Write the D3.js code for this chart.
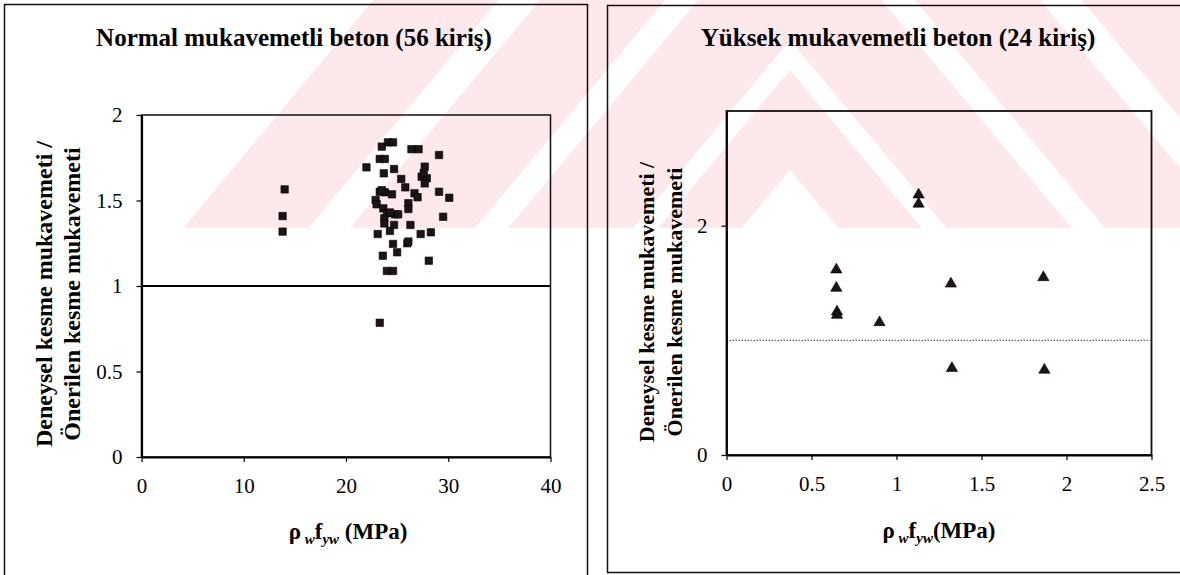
<!DOCTYPE html>
<html>
<head>
<meta charset="utf-8">
<script src="https://cdn.jsdelivr.net/npm/d3@7"></script>
<style>
body { margin: 0; background: #fff; }
svg { display: block; }
</style>
</head>
<body>
<div id="chart"></div>
<script>
// normal strength concrete (56 beams)
var normX = [14.0, 13.8, 13.8, 22.0, 23.5, 24.1, 24.6, 26.4, 27.1, 29.1, 23.3, 23.8, 23.7, 24.7, 27.7,
             27.4, 27.9, 27.7, 27.6, 25.4, 25.8, 26.7, 27.0, 29.1, 30.1, 23.3, 23.8, 24.5, 22.9, 23.0,
             26.1, 26.1, 23.65, 24.0, 24.8, 25.1, 23.75, 23.75, 29.5, 24.7, 26.3, 24.3, 23.1, 27.3,
             28.3, 24.6, 26.0, 26.1, 25.0, 23.6, 28.1, 24.0, 24.6, 23.3, 23.5, 24.3];
var normY = [1.565, 1.409, 1.318, 1.694, 1.815, 1.84, 1.84, 1.80, 1.80, 1.766, 1.743, 1.743, 1.659, 1.684, 1.698,
             1.639, 1.63, 1.60, 1.66, 1.626, 1.577, 1.542, 1.519, 1.551, 1.516, 1.551, 1.548, 1.536, 1.503, 1.478,
             1.484, 1.45, 1.454, 1.425, 1.419, 1.419, 1.396, 1.366, 1.405, 1.357, 1.357, 1.322, 1.304, 1.304,
             1.314, 1.246, 1.25, 1.26, 1.197, 1.177, 1.148, 1.088, 1.088, 0.785, 1.56, 1.43];

// high strength concrete (24 beams, many overlap)
var highX = [1.13, 1.13, 0.646, 0.646, 0.65, 0.65, 0.90, 1.32, 1.864, 1.326, 1.87];
var highY = [2.27, 2.19, 1.616, 1.456, 1.25, 1.22, 1.156, 1.493, 1.549, 0.757, 0.742];

var normXTicks = [0, 10, 20, 30, 40];
var normYTicks = [0, 0.5, 1, 1.5, 2];
var highXTicks = [0, 0.5, 1, 1.5, 2, 2.5];
var highYTicks = [0, 2];

var titles = ["Normal mukavemetli beton (56 kiriş)", "Yüksek mukavemetli beton (24 kiriş)"];
var yTitleLines = ["Deneysel kesme mukavemeti /", "Önerilen kesme mukavemeti"];

var width = 1180,
    height = 575,
    serif = "'Liberation Serif', 'Times New Roman', serif";

var svg = d3.select("#chart").append("svg")
    .attr("width", width)
    .attr("height", height);

// faint pink watermark in the upper band
svg.append("clipPath").attr("id", "wmclip")
    .append("rect").attr("x", 180).attr("y", 0).attr("width", 1000).attr("height", 228);
var wm = svg.append("g").attr("clip-path", "url(#wmclip)");

function chevron(cx, apex, w, s) {
    var L = 1200;
    return [[cx - L, apex + s * L], [cx, apex], [cx + L, apex + s * L],
            [cx + L, apex + w + s * L], [cx, apex + w], [cx - L, apex + w + s * L]];
}
[[-500, 150], [-300, 150], [-110, 150], [70, 100]].forEach(function (b) {
    wm.append("polygon")
        .attr("points", chevron(790, b[0], b[1], 1.2).map(function (p) { return p.join(","); }).join(" "))
        .attr("fill", "#fde8ec");
});

function drawPanel(o) {
    var g = svg.append("g");

    g.append("rect")
        .attr("x", o.frame[0]).attr("y", o.frame[1])
        .attr("width", o.frame[2]).attr("height", o.frame[3])
        .attr("fill", "none").attr("stroke", "#111").attr("stroke-width", 1.5);

    var x = d3.scaleLinear().domain(o.xDomain).range([o.left, o.right]);
    var y = d3.scaleLinear().domain(o.yDomain).range([o.bottom, o.top]);

    g.append("rect")
        .attr("x", o.left).attr("y", o.top)
        .attr("width", o.right - o.left).attr("height", o.bottom - o.top)
        .attr("fill", "none").attr("stroke", "#111").attr("stroke-width", o.boxWidth);

    var ref = g.append("line")
        .attr("x1", o.left).attr("x2", o.right)
        .attr("y1", y(1)).attr("y2", y(1));
    if (o.dotted) {
        ref.attr("stroke", "#444").attr("stroke-width", 1).attr("stroke-dasharray", "1.5,1.5");
    } else {
        ref.attr("stroke", "#000").attr("stroke-width", 2);
    }

    var xAxis = g.append("g")
        .attr("transform", "translate(0," + o.bottom + ")")
        .call(d3.axisBottom(x).tickValues(o.xTicks).tickSize(5).tickSizeOuter(0)
            .tickPadding(16).tickFormat(String));
    var yAxis = g.append("g")
        .attr("transform", "translate(" + o.left + ",0)")
        .call(d3.axisLeft(y).tickValues(o.yTicks).tickSize(5).tickSizeOuter(0)
            .tickPadding(o.yPad).tickFormat(String));

    [xAxis, yAxis].forEach(function (a) {
        a.select(".domain").attr("stroke", "#000").attr("stroke-width", o.axisWidth);
        a.selectAll(".tick line").attr("stroke", "#000").attr("stroke-width", 1.2);
        a.selectAll(".tick text")
            .attr("fill", "#000")
            .style("font-family", serif)
            .style("font-size", "21px");
    });

    var pts = d3.zip(o.xs, o.ys);
    g.selectAll(".pt")
        .data(pts)
        .enter().append("path")
        .attr("class", "pt")
        .attr("transform", function (d) { return "translate(" + x(d[0]) + "," + y(d[1]) + ")"; })
        .attr("d", d3.symbol().type(o.symbol).size(o.symSize))
        .attr("fill", "#1c1416")
        .attr("stroke", "#000")
        .attr("stroke-width", 0.6);

    g.append("text")
        .attr("x", o.titleX).attr("y", 46)
        .attr("text-anchor", "middle")
        .style("font-family", serif).style("font-weight", "bold").style("font-size", "25px")
        .text(o.title);

    yTitleLines.forEach(function (t, i) {
        g.append("text")
            .attr("transform", "translate(" + o.yTitleX[i] + "," + o.yTitleY + ") rotate(-90)")
            .attr("text-anchor", "middle")
            .style("font-family", serif).style("font-weight", "bold")
            .style("font-size", o.yTitleSize + "px")
            .text(t);
    });

    var xt = g.append("text")
        .attr("x", o.xTitleX).attr("y", o.xTitleY)
        .attr("text-anchor", "middle")
        .style("font-family", serif).style("font-weight", "bold").style("font-size", "23px");
    xt.append("tspan").text("ρ");
    xt.append("tspan").attr("dy", 5).style("font-size", "15px").style("font-style", "italic").text(" w");
    xt.append("tspan").attr("dy", -5).text("f");
    xt.append("tspan").attr("dy", 5).style("font-size", "15px").style("font-style", "italic").text("yw");
    xt.append("tspan").attr("dy", -5).text(o.unitGap + "(MPa)");
}

drawPanel({
    frame: [4.5, 4.5, 583, 600],
    left: 141.5, right: 550.5, top: 115, bottom: 457,
    xDomain: [0, 40], yDomain: [0, 2],
    xTicks: normXTicks, yTicks: normYTicks,
    xs: normX, ys: normY,
    symbol: d3.symbolSquare, symSize: 55,
    boxWidth: 1.5, axisWidth: 2.2, dotted: false, yPad: 14,
    title: titles[0], titleX: 294,
    yTitleX: [52, 80], yTitleY: 294, yTitleSize: 24,
    xTitleX: 348, xTitleY: 539, unitGap: " "
});

drawPanel({
    frame: [607.5, 5.5, 600, 567],
    left: 726.5, right: 1151.5, top: 111, bottom: 455,
    xDomain: [0, 2.5], yDomain: [0, 3],
    xTicks: highXTicks, yTicks: highYTicks,
    xs: highX, ys: highY,
    symbol: d3.symbolTriangle, symSize: 55,
    boxWidth: 1.8, axisWidth: 1.8, dotted: true, yPad: 14,
    title: titles[1], titleX: 898,
    yTitleX: [654, 682], yTitleY: 302, yTitleSize: 22,
    xTitleX: 939, xTitleY: 538, unitGap: ""
});
</script>
</body>
</html>
